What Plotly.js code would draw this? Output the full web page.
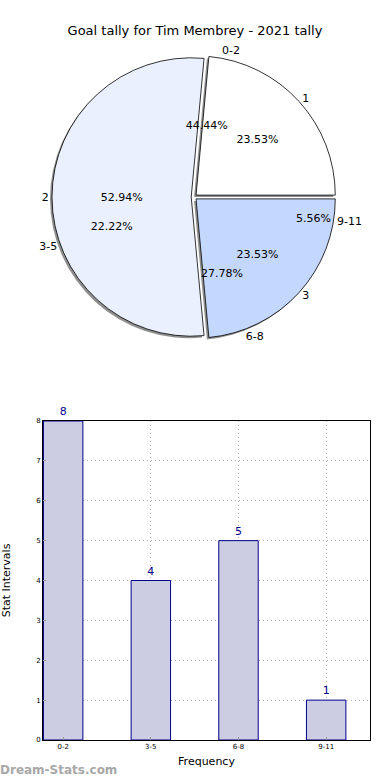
<!DOCTYPE html>
<html>
<head>
<meta charset="utf-8">
<script src="https://cdn.plot.ly/plotly-3.0.1.min.js"></script>
<style>html,body{margin:0;padding:0;background:#fff;}#chart{width:390px;height:780px;}</style>
</head>
<body>
<div id="chart"></div>
<script>
// Pie A: goal tally per match
const tallyLabels = ['1', '2', '3'];
const tallyValues = [4, 9, 4];
const tallyColors = ['#ffffff', '#eaf0fe', '#c4d7fd'];
// Pie B + bars: stat intervals
const intervalLabels = ['0-2', '3-5', '6-8', '9-11'];
const intervalValues = [8, 4, 5, 1];

const titleText = 'Goal tally for Tim Membrey - 2021 tally';
const xTitle = 'Frequency';
const yTitle = 'Stat Intervals';
const yTicks = [0, 1, 2, 3, 4, 5, 6, 7, 8];

const W = 390, H = 780;
const cx = 194, cy = 197, R = 142;
const dom = {x: [(cx - R) / W, (cx + R) / W], y: [1 - (cy + R) / H, 1 - (cy - R) / H]};
const sx = 2, sy = 2;
const shadowDom = {x: [(cx - R - sx) / W, (cx + R - sx) / W], y: [1 - (cy + R + sy) / H, 1 - (cy - R + sy) / H]};
const font = 'DejaVu Sans, sans-serif';
const pull = 0.02;
const clear = v => v.map(() => 'rgba(0,0,0,0)');
const black = v => v.map(() => '#000000');
const sum = v => v.reduce((a, b) => a + b, 0);
// Plotly's counterclockwise pies end the first slice at `rotation`; shift so the first slice starts at 3 o'clock
const rot = v => 90 - 360 * v[0] / sum(v);

const common = {type: 'pie', sort: false, direction: 'counterclockwise',
  hoverinfo: 'skip', showlegend: false};

const traces = [
  Object.assign({}, common, {values: tallyValues, labels: tallyLabels, domain: shadowDom, pull: pull,
    rotation: rot(tallyValues),
    marker: {colors: tallyValues.map(() => 'rgba(70,70,70,0.6)'), line: {width: 0}}, textinfo: 'none'}),
  Object.assign({}, common, {values: tallyValues, labels: tallyLabels, domain: dom, pull: pull,
    rotation: rot(tallyValues),
    marker: {colors: tallyColors, line: {color: '#000', width: 0.8}}, textinfo: 'none'}),
  Object.assign({}, common, {values: tallyValues, labels: tallyLabels, domain: dom, pull: pull,
    rotation: rot(tallyValues),
    marker: {colors: clear(tallyValues), line: {width: 0}},
    texttemplate: '%{percent:.2%}', textposition: 'inside', insidetextorientation: 'horizontal',
    textfont: {family: font, size: 11, color: black(tallyValues)},
    insidetextfont: {family: font, size: 11, color: black(tallyValues)}}),
  Object.assign({}, common, {values: tallyValues, labels: tallyLabels, domain: dom, pull: pull,
    rotation: rot(tallyValues),
    marker: {colors: clear(tallyValues), line: {width: 0}},
    texttemplate: '%{label}', textposition: 'outside',
    textfont: {family: font, size: 11, color: black(tallyValues)},
    outsidetextfont: {family: font, size: 11, color: black(tallyValues)}}),
  Object.assign({}, common, {values: intervalValues, labels: intervalLabels, domain: dom, pull: pull,
    rotation: rot(intervalValues),
    marker: {colors: clear(intervalValues), line: {width: 0}},
    texttemplate: '%{percent:.2%}', textposition: 'inside', insidetextorientation: 'horizontal',
    textfont: {family: font, size: 11, color: black(intervalValues)},
    insidetextfont: {family: font, size: 11, color: black(intervalValues)}}),
  Object.assign({}, common, {values: intervalValues, labels: intervalLabels, domain: dom, pull: pull,
    rotation: rot(intervalValues),
    marker: {colors: clear(intervalValues), line: {width: 0}},
    texttemplate: '%{label}', textposition: 'outside',
    textfont: {family: font, size: 11, color: black(intervalValues)},
    outsidetextfont: {family: font, size: 11, color: black(intervalValues)}}),
  {type: 'bar', x: intervalLabels, y: intervalValues, width: 0.45,
    marker: {color: '#cccce2', line: {color: '#00008b', width: 1}},
    text: intervalValues.map(String), textposition: 'outside', cliponaxis: false,
    textfont: {family: font, size: 11, color: '#00008b'},
    hoverinfo: 'skip', showlegend: false}
];

const layout = {
  width: W, height: H,
  margin: {l: 0, r: 0, t: 0, b: 0},
  paper_bgcolor: '#fff', plot_bgcolor: '#fff',
  font: {family: font, color: '#000'},
  title: {text: titleText, font: {family: font, size: 13, color: '#000'},
    x: 0.5, xanchor: 'center', y: 1 - 30 / H, yanchor: 'middle', xref: 'paper', yref: 'paper'},
  xaxis: {domain: [43 / W, 370 / W], range: [-0.23, 3.5], type: 'category',
    showline: true, mirror: true, linecolor: '#000', linewidth: 1,
    showgrid: true, gridcolor: '#b8b8b8', griddash: '1px,3px', gridwidth: 1,
    ticks: 'inside', ticklen: 3, tickcolor: '#999',
    tickfont: {family: font, size: 7, color: '#000'},
    title: {text: xTitle, font: {family: font, size: 11, color: '#000'}, standoff: 6},
    zeroline: false, fixedrange: true},
  yaxis: {domain: [1 - 740 / H, 1 - 421 / H], range: [0, 8], tickvals: yTicks,
    showline: true, mirror: true, linecolor: '#000', linewidth: 1,
    showgrid: true, gridcolor: '#b8b8b8', griddash: '1px,3px', gridwidth: 1,
    ticks: 'inside', ticklen: 3, tickcolor: '#999',
    tickfont: {family: font, size: 7, color: '#000'},
    title: {text: yTitle, font: {family: font, size: 11, color: '#000'}, standoff: 26},
    zeroline: false, fixedrange: true},
  annotations: [{text: 'Dream-Stats.com', xref: 'paper', yref: 'paper', x: -0.005, y: 1 - 770 / H,
    xanchor: 'left', yanchor: 'middle', showarrow: false,
    font: {family: font, size: 12, color: '#a8a8a8', weight: 'bold'}}]
};

Plotly.newPlot('chart', traces, layout, {staticPlot: true, displayModeBar: false});
</script>
</body>
</html>
